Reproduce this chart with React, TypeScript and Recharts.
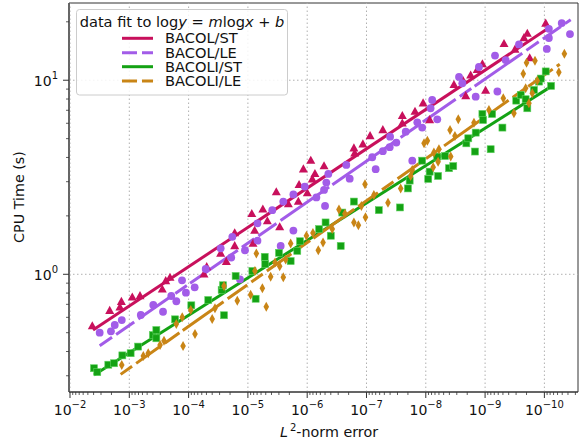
import React from "react";
import {
  ComposedChart,
  Scatter,
  Line,
  XAxis,
  YAxis,
  ReferenceLine,
  ReferenceArea,
  Legend,
} from "recharts";

type Pt = [number, number]; // [L2-norm error, CPU time (s)]

const BACOL_ST: Pt[] = [
  [4.21e-3, 0.541], [2.14e-3, 0.649], [1.44e-3, 0.676], [1.36e-3, 0.722], [8.9e-4, 0.761],
  [6.6e-4, 0.773], [2.78e-4, 0.837], [2.43e-4, 0.924], [2.06e-4, 0.961], [5.5e-5, 1.0],
  [4.95e-5, 1.09], [2.88e-5, 1.28], [2.31e-5, 1.16], [1.67e-5, 1.63], [1.67e-5, 1.4],
  [8.6e-6, 2.05], [8.2e-6, 1.44], [7.7e-6, 1.68], [5.6e-6, 2.16], [4.7e-6, 1.88],
  [2.91e-6, 1.75], [3.32e-6, 2.65], [2.08e-6, 2.3], [1.41e-6, 2.37], [1.37e-6, 2.89],
  [1.16e-6, 3.48], [9.95e-7, 2.62], [8.7e-7, 3.85], [8.2e-7, 3.09], [7.4e-7, 3.29],
  [5.2e-7, 3.61], [1.63e-7, 4.46], [1.58e-7, 4.2], [1.15e-7, 4.68], [8.7e-8, 5.16],
  [5.3e-8, 5.54], [2.49e-8, 6.55], [2.49e-8, 6.0], [1.52e-8, 6.89], [1.11e-8, 7.61],
  [8.6e-9, 6.24], [3.35e-9, 9.46], [2.36e-9, 9.95], [2.12e-9, 8.3], [1.75e-9, 10.6],
  [1.36e-9, 11.3], [1.11e-9, 12.1], [9.8e-10, 8.84], [4.8e-10, 15.4], [3.13e-10, 14.4],
  [2.21e-10, 16.5], [1.94e-10, 17.4], [1.77e-10, 13.0], [9.5e-11, 19.6],
];

const BACOL_LE: Pt[] = [
  [3.16e-3, 0.5], [2.04e-3, 0.508], [1.76e-3, 0.548], [1.34e-3, 0.581], [6.4e-4, 0.617],
  [3.94e-4, 0.695], [2.7e-4, 0.641], [1.96e-4, 0.773], [1.61e-4, 0.726], [1.29e-4, 0.931],
  [1.11e-4, 0.804], [7.9e-5, 0.857], [5.15e-5, 1.065], [2.88e-5, 1.36], [1.91e-5, 1.22],
  [1.83e-5, 1.56], [1.36e-5, 0.942], [1.12e-5, 1.33], [6.9e-6, 1.49], [6.9e-6, 1.83],
  [3.88e-6, 2.14], [2.8e-6, 1.4], [2.53e-6, 2.37], [1.71e-6, 2.58], [1.71e-6, 1.68],
  [1.1e-6, 2.83], [7.0e-7, 2.49], [5.2e-7, 2.72], [5.0e-7, 2.25], [4.76e-7, 2.97],
  [4.4e-7, 3.29], [2.19e-7, 3.66], [1.92e-7, 3.11], [8.0e-8, 4.01], [7.0e-8, 3.48],
  [5.3e-8, 4.31], [4.06e-8, 4.52], [4.0e-8, 5.12], [3.14e-8, 4.77], [2.18e-8, 5.43],
  [1.69e-8, 3.85], [1.39e-8, 6.07], [1.15e-8, 5.7], [8.3e-9, 7.17], [7.8e-9, 7.91],
  [6.4e-9, 6.29], [2.75e-9, 10.4], [2.42e-9, 9.65], [1.44e-9, 8.23], [1.27e-9, 11.7],
  [6.8e-10, 13.4], [6.2e-10, 8.75], [4.5e-10, 12.7], [2.68e-10, 15.3], [9.1e-11, 14.5],
  [8.4e-11, 16.5], [8.4e-11, 18.4], [5.1e-11, 19.7], [3.7e-11, 17.3],
];

const BACOLI_ST: Pt[] = [
  [3.94e-3, 0.328], [3.47e-3, 0.313], [2.26e-3, 0.342], [1.81e-3, 0.348], [1.31e-3, 0.382],
  [9.5e-4, 0.392], [7.1e-4, 0.424], [4.0e-4, 0.486], [3.5e-4, 0.516], [3.5e-4, 0.468],
  [1.69e-4, 0.586], [9.0e-5, 0.692], [4.66e-5, 0.737], [2.77e-5, 0.83], [2.63e-5, 0.878],
  [2.53e-5, 0.615], [1.61e-5, 0.98], [8.4e-6, 1.04], [7.4e-6, 0.748], [5.2e-6, 1.23],
  [5.1e-6, 1.13], [2.99e-6, 1.29], [1.9e-6, 1.17], [1.47e-6, 1.32], [1.32e-6, 1.48],
  [6.3e-7, 1.71], [4.9e-7, 1.85], [4.0e-7, 1.58], [2.72e-7, 1.4], [2.56e-7, 2.08],
  [1.63e-7, 2.37], [6.2e-8, 2.14], [2.72e-8, 2.21], [2.0e-8, 2.77], [1.87e-8, 3.04],
  [1.15e-8, 3.85], [9.1e-9, 3.1], [8.6e-9, 3.38], [6.4e-9, 4.04], [6.2e-9, 3.21],
  [4.74e-9, 4.07], [4.06e-9, 3.52], [3.44e-9, 3.61], [2.07e-9, 4.73], [1.92e-9, 5.02],
  [1.48e-9, 4.29], [1.44e-9, 5.37], [1.11e-9, 6.7], [1.08e-9, 6.24], [8.05e-10, 4.41],
  [7.6e-10, 6.7], [5.1e-10, 5.7], [2.98e-10, 7.85], [2.5e-10, 8.4], [2.07e-10, 7.98],
  [1.94e-10, 7.17], [1.5e-10, 8.91], [1.23e-10, 9.84], [1.15e-10, 10.2], [9.5e-11, 11.1],
  [7.7e-11, 9.35],
];

const BACOLI_LE: Pt[] = [
  [1.34e-3, 0.341], [5.8e-4, 0.379], [4.8e-4, 0.392], [3.03e-4, 0.432], [2.6e-4, 0.455],
  [1.61e-4, 0.554], [1.28e-4, 0.6], [1.24e-4, 0.427], [9.2e-5, 0.655], [7.8e-5, 0.492],
  [4.0e-5, 0.588], [3.59e-5, 0.668], [2.53e-5, 0.871], [1.51e-5, 0.731], [9.0e-6, 0.785],
  [7.6e-6, 1.04], [7.2e-6, 1.28], [5.7e-6, 0.847], [4.9e-6, 0.681], [4.13e-6, 0.972],
  [3.49e-6, 1.15], [2.91e-6, 1.1], [2.53e-6, 0.965], [2.31e-6, 1.19], [1.9e-6, 1.44],
  [1.03e-6, 1.58], [8.0e-7, 1.63], [6.5e-7, 1.33], [5.4e-7, 1.46], [3.78e-7, 1.71],
  [2.91e-7, 2.16], [2.31e-7, 2.05], [1.63e-7, 1.85], [1.37e-7, 1.79], [1.22e-7, 2.25],
  [1.06e-7, 2.91], [1.04e-7, 1.97], [7.5e-8, 2.56], [4.34e-8, 2.34], [2.65e-8, 2.77],
  [1.8e-8, 3.21], [1.69e-8, 3.45], [1.07e-8, 4.73], [9.4e-9, 4.88], [7.5e-9, 3.56],
  [7.3e-9, 4.24], [6.2e-9, 3.8], [6.0e-9, 4.41], [3.9e-9, 5.54], [3.8e-9, 4.04],
  [3.22e-9, 5.16], [2.83e-9, 6.29], [1.54e-9, 6.04], [8.6e-10, 7.03], [4.93e-10, 8.08],
  [3.26e-10, 6.76], [2.27e-10, 10.8], [2.07e-10, 9.1], [2.0e-10, 12.3], [1.82e-10, 7.61],
  [1.6e-10, 8.57], [1.44e-10, 12.6], [1.32e-10, 9.95], [5.7e-11, 11.0], [4.6e-11, 13.7],
];

// fitted lines (log y = m log x + b), end points
const BACOL_ST_FIT: Pt[] = [[4.09e-3, 0.516], [9.4e-11, 18.2]];
const BACOL_LE_FIT: Pt[] = [[3.16e-3, 0.428], [3.6e-11, 20.5]];
const BACOLI_ST_FIT: Pt[] = [[3.94e-3, 0.303], [7.4e-11, 9.35]];
const BACOLI_LE_FIT: Pt[] = [[1.4e-3, 0.305], [5.5e-11, 12.1]];

const X_MAJOR = [1e-2, 1e-3, 1e-4, 1e-5, 1e-6, 1e-7, 1e-8, 1e-9, 1e-10];
const Y_MAJOR = [1, 10];

const X_MIN = 2.71e-11;
const X_MAX = 1.04e-2;
const Y_MIN = 0.2474;
const Y_MAX = 25.0;

const FONT = "'DejaVu Sans', sans-serif";

const rows = (pts: Pt[]) => pts.map(([e, t]) => ({ e, t }));

function logTicks(min: number, max: number, lo: number, hi: number) {
  const out: number[] = [];
  for (let p = lo; p <= hi; p++) {
    for (let m = 1; m <= 9; m++) {
      const v = m * Math.pow(10, p);
      if (v >= min && v <= max) out.push(v);
    }
  }
  return out;
}

const X_TICKS = logTicks(X_MIN, X_MAX, -11, -2);
const Y_TICKS = logTicks(Y_MIN, Y_MAX, -1, 1);

const isMajor = (v: number) => {
  const l = Math.log10(v);
  return Math.abs(l - Math.round(l)) < 1e-6;
};

const SERIES = [
  { name: "BACOL/ST", pts: BACOL_ST, fit: BACOL_ST_FIT, color: "#C8105C", marker: "tri", dash: undefined },
  { name: "BACOL/LE", pts: BACOL_LE, fit: BACOL_LE_FIT, color: "#A25CE8", marker: "circle", dash: "15 5 22 5 40 5 14 4 58 5" },
  { name: "BACOLI/ST", pts: BACOLI_ST, fit: BACOLI_ST_FIT, color: "#14A214", marker: "square", dash: undefined },
  { name: "BACOLI/LE", pts: BACOLI_LE, fit: BACOLI_LE_FIT, color: "#C98516", marker: "diamond", dash: "14 5 30 5 18 4 50 5 24 5" },
];

function makeShape(kind: string, color: string) {
  return (p: any) => {
    const { cx, cy } = p;
    if (cx == null || cy == null) return <g />;
    if (kind === "tri")
      return <polygon points={`${cx},${cy - 4.9} ${cx - 4.5},${cy + 3.2} ${cx + 4.5},${cy + 3.2}`} fill={color} />;
    if (kind === "circle") return <circle cx={cx} cy={cy} r={3.9} fill={color} />;
    if (kind === "square")
      return <rect x={cx - 3.5} y={cy - 3.5} width={7} height={7} fill={color} stroke="#5fd35f" strokeWidth={0.6} />;
    return <polygon points={`${cx},${cy - 5} ${cx + 2.8},${cy} ${cx},${cy + 5} ${cx - 2.8},${cy}`} fill={color} />;
  };
}

function XTick({ x = 0, y = 0, payload }: any) {
  const v = payload?.value as number;
  const major = isMajor(v);
  const exp = Math.round(Math.log10(v));
  return (
    <g>
      <line x1={x} x2={x} y1={y} y2={y + (major ? 6 : 3)} stroke="#333" strokeWidth={major ? 1 : 0.8} />
      {major && (
        <text x={x} y={y + 23} textAnchor="middle" fontSize={14} fill="#111" fontFamily={FONT}>
          10
          <tspan dy={-7} fontSize={10}>{`\u2212${-exp}`}</tspan>
        </text>
      )}
    </g>
  );
}

function YTick({ x = 0, y = 0, payload }: any) {
  const v = payload?.value as number;
  const major = isMajor(v);
  const exp = Math.round(Math.log10(v));
  return (
    <g>
      <line x1={x - (major ? 6 : 3)} x2={x} y1={y} y2={y} stroke="#333" strokeWidth={major ? 1 : 0.8} />
      {major && (
        <text x={x - 11} y={y + 6} textAnchor="end" fontSize={14} fill="#111" fontFamily={FONT}>
          10
          <tspan dy={-7} fontSize={10}>{`${exp}`}</tspan>
        </text>
      )}
    </g>
  );
}

function XTitle() {
  return (
    <text x={280} y={437} fontSize={14.3} fill="#111" fontFamily={FONT}>
      <tspan fontStyle="italic">L</tspan>
      <tspan dy={-6} fontSize={10} dx={2}>2</tspan>
      <tspan dy={6}>-norm error</tspan>
    </text>
  );
}

function YTitle() {
  return (
    <text
      x={24}
      y={197}
      transform="rotate(-90, 24, 197)"
      textAnchor="middle"
      fontSize={14.3}
      fill="#111"
      fontFamily={FONT}
    >
      CPU Time (s)
    </text>
  );
}

function LegendBox() {
  const rowsY = [29.3, 43.7, 57.7, 72];
  return (
    <svg width={212} height={87} style={{ display: "block" }}>
      <rect x={0.5} y={0.5} width={211} height={85.5} rx={3} fill="#fff" fillOpacity={0.85} stroke="#cccccc" />
      <text x={106} y={18} textAnchor="middle" fontSize={14.6} fill="#111" fontFamily={FONT}>
        data fit to log<tspan fontStyle="italic">y</tspan> = <tspan fontStyle="italic">m</tspan>log
        <tspan fontStyle="italic">x</tspan> + <tspan fontStyle="italic">b</tspan>
      </text>
      {SERIES.map((s, i) => (
        <g key={s.name}>
          <line
            x1={46}
            x2={77}
            y1={rowsY[i]}
            y2={rowsY[i]}
            stroke={s.color}
            strokeWidth={3}
            strokeDasharray={s.dash ? "15 5" : undefined}
          />
          <text x={89} y={rowsY[i] + 5} fontSize={14.6} fill="#111" fontFamily={FONT}>
            {s.name}
          </text>
        </g>
      ))}
    </svg>
  );
}

export default function App() {
  return (
    <div style={{ position: "absolute", left: 0, top: 0, background: "#fff" }}>
      <ComposedChart
        width={585}
        height={443}
        margin={{ top: 3, right: 7, left: 9, bottom: 6 }}
        style={{ fontFamily: FONT }}
      >
        <XAxis
          dataKey="e"
          type="number"
          scale="log"
          domain={[X_MIN, X_MAX]}
          allowDataOverflow
          reversed
          ticks={X_TICKS}
          interval={0}
          tick={<XTick />}
          tickLine={false}
          tickSize={0}
          tickMargin={0}
          axisLine={{ stroke: "#333" }}
          height={45}
          label={<XTitle />}
        />
        <YAxis
          dataKey="t"
          type="number"
          scale="log"
          domain={[Y_MIN, Y_MAX]}
          allowDataOverflow
          ticks={Y_TICKS}
          interval={0}
          tick={<YTick />}
          tickLine={false}
          tickSize={0}
          tickMargin={0}
          axisLine={{ stroke: "#333" }}
          width={60}
          label={<YTitle />}
        />
        {X_MAJOR.map((v) => (
          <ReferenceLine key={`gx${v}`} x={v} stroke="#b0b0b0" strokeDasharray="1.5 2.5" strokeWidth={1} />
        ))}
        {Y_MAJOR.map((v) => (
          <ReferenceLine key={`gy${v}`} y={v} stroke="#b0b0b0" strokeDasharray="1.5 2.5" strokeWidth={1} />
        ))}
        {SERIES.map((s) => (
          <Scatter
            key={`pts-${s.name}`}
            name={s.name}
            data={rows(s.pts)}
            fill={s.color}
            shape={makeShape(s.marker, s.color)}
            isAnimationActive={false}
            legendType="none"
          />
        ))}
        {SERIES.map((s) => (
          <Line
            key={`fit-${s.name}`}
            name={s.name}
            data={rows(s.fit)}
            dataKey="t"
            stroke={s.color}
            strokeWidth={3}
            strokeDasharray={s.dash}
            dot={false}
            activeDot={false}
            isAnimationActive={false}
          />
        ))}
        <ReferenceArea
          x1={X_MIN}
          x2={X_MAX}
          y1={Y_MIN}
          y2={Y_MAX}
          fill="none"
          fillOpacity={0}
          stroke="#333"
          strokeWidth={1}
        />
        <Legend
          layout="horizontal"
          verticalAlign="middle"
          align="center"
          wrapperStyle={{ left: 76, top: 9, width: 212, height: 87 }}
          content={() => <LegendBox />}
        />
      </ComposedChart>
    </div>
  );
}
